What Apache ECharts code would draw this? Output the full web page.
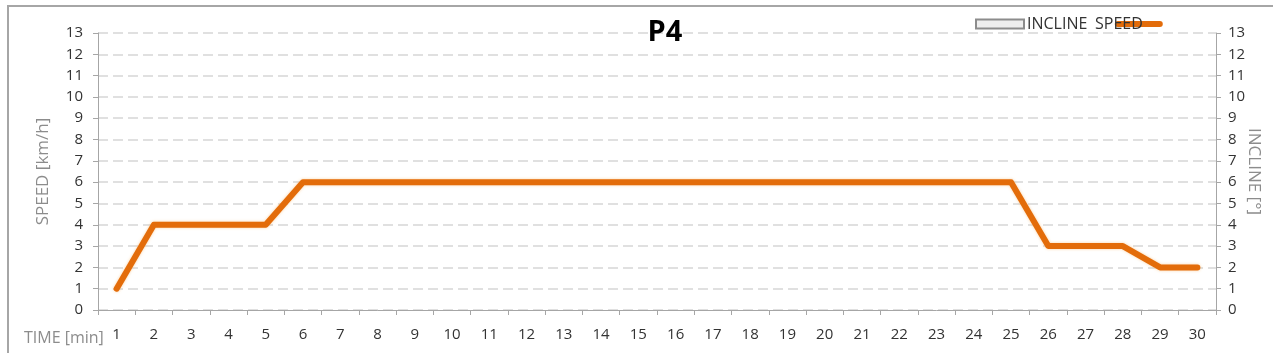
<!DOCTYPE html>
<html>
<head>
<meta charset="utf-8">
<script src="https://cdn.jsdelivr.net/npm/echarts@6/dist/echarts.min.js"></script>
<style>
  html, body { margin: 0; padding: 0; background: #fff; }
  #frame { position: absolute; left: 7px; top: 5px; width: 1280px; height: 360px;
    border-top: 2px solid #a6a6a6; border-left: 2px solid #a6a6a6; }
  #chart { position: absolute; left: 0; top: 0; width: 1273px; height: 353px; }
</style>
</head>
<body>
<div id="frame"></div>
<div id="chart"></div>
<script>
// time in minutes, 1..30
const minutes = [
  "1", "2", "3", "4", "5", "6", "7", "8", "9", "10",
  "11", "12", "13", "14", "15", "16", "17", "18", "19", "20",
  "21", "22", "23", "24", "25", "26", "27", "28", "29", "30",
];
// speed [km/h] per minute
const speed = [
  1, 4, 4, 4, 4, 6, 6, 6, 6, 6,
  6, 6, 6, 6, 6, 6, 6, 6, 6, 6,
  6, 6, 6, 6, 6, 3, 3, 3, 2, 2,
];
// incline is empty in this profile
const incline = [];

const font = "'Open Sans', 'Liberation Sans', sans-serif";
const axisGray = "#a6a6a6";
const labelColor = "#333333";
const nameColor = "#8c8c8c";

const yCommon = {
  type: "value",
  min: 0,
  max: 13,
  interval: 1,
  axisLine: { show: true, lineStyle: { color: axisGray, width: 1 } },
  axisTick: { show: true, length: 5, lineStyle: { color: axisGray } },
  axisLabel: { color: labelColor, fontSize: 15, fontFamily: font },
  nameLocation: "middle",
  nameMoveOverlap: false,
  nameTextStyle: { color: nameColor, fontSize: 17, fontFamily: font },
};

const chart = echarts.init(document.getElementById("chart"), null, { renderer: "canvas" });

chart.setOption({
  animation: false,
  title: [
    {
      text: "P4",
      left: 660,
      top: 13,
      textAlign: "center",
      textStyle: { fontSize: 29, fontWeight: "bold", color: "#000", fontFamily: font },
    },
    {
      text: "TIME [min]",
      left: 19,
      top: 325,
      textStyle: { fontSize: 16, fontWeight: "normal", color: nameColor, fontFamily: font },
    },
  ],
  legend: [
    {
      data: ["INCLINE"],
      left: 970,
      top: 11,
      itemWidth: 48,
      itemHeight: 9,
      itemGap: 4,
      icon: "rect",
      textStyle: { color: labelColor, fontSize: 16, fontFamily: font, padding: [0, 0, 0, -2] },
    },
    {
      data: ["SPEED"],
      left: 1090,
      top: 11,
      align: "right",
      itemWidth: 42,
      itemHeight: 7,
      itemGap: 0,
      lineStyle: { width: 6, cap: "round" },
      textStyle: { color: labelColor, fontSize: 16, fontFamily: font, padding: [0, -30, 0, 0] },
    },
  ],
  grid: { left: 98, right: 57, top: 33, bottom: 43, containLabel: false, outerBoundsMode: "none" },
  xAxis: {
    type: "category",
    data: minutes,
    boundaryGap: true,
    axisLine: { show: true, lineStyle: { color: axisGray, width: 1 } },
    axisTick: { show: true, length: 5, lineStyle: { color: axisGray } },
    axisLabel: { color: labelColor, fontSize: 15, fontFamily: font, margin: 17, interval: 0 },
    splitLine: { show: false },
  },
  yAxis: [
    Object.assign({}, yCommon, {
      position: "left",
      name: "SPEED [km/h]",
      nameGap: 46,
      nameRotate: 90,
      axisLabel: Object.assign({}, yCommon.axisLabel, { margin: 15 }),
      splitLine: { show: true, lineStyle: { color: "#d6d6d6", type: [10, 5], width: 1.5 } },
    }),
    Object.assign({}, yCommon, {
      position: "right",
      name: "INCLINE [°]",
      nameGap: 29,
      nameRotate: -90,
      axisLabel: Object.assign({}, yCommon.axisLabel, { margin: 12 }),
      splitLine: { show: false },
    }),
  ],
  series: [
    {
      name: "INCLINE",
      type: "bar",
      yAxisIndex: 1,
      data: incline,
      itemStyle: { color: "#eeeeee", borderColor: "#8c8c8c", borderWidth: 1 },
    },
    {
      name: "SPEED",
      type: "line",
      yAxisIndex: 0,
      data: speed,
      symbol: "none",
      color: "#e36c0a",
      lineStyle: { color: "#e36c0a", width: 6, cap: "round", join: "round",
        shadowColor: "rgba(250,190,120,0.7)", shadowBlur: 3 },
    },
  ],
});
</script>
</body>
</html>
